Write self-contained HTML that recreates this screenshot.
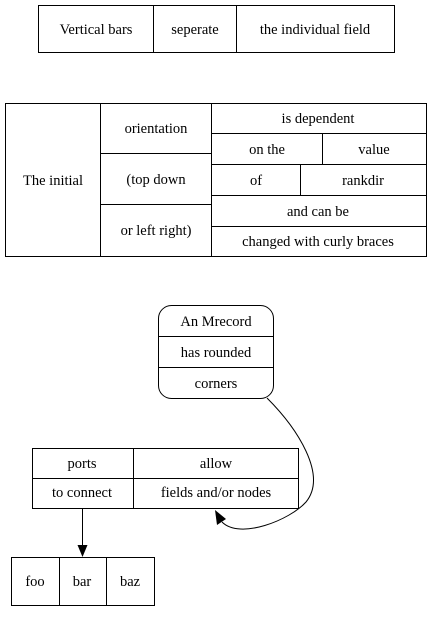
<!DOCTYPE html>
<html><head><style>body{margin:0;background:#fff} svg text{font-family:"Times New Roman","Liberation Serif",Times,serif;font-size:14.5px}</style></head><body>
<svg width="432" height="612" viewBox="0 0 432 612" xmlns="http://www.w3.org/2000/svg" text-anchor="middle">
<g fill="none" stroke="#000" stroke-width="1">
<rect x="38.5" y="5.5" width="356" height="47"/>
<path d="M153.5 5.5V52.5M236.5 5.5V52.5"/>
<rect x="5.5" y="103.5" width="421" height="153"/>
<path d="M100.5 103.5V256.5M211.5 103.5V256.5M100.5 153.5H211.5M100.5 204.5H211.5M211.5 133.5H426.5M211.5 164.5H426.5M211.5 195.5H426.5M211.5 226.5H426.5M322.5 133.5V164.5M300.5 164.5V195.5"/>
<rect x="158.5" y="305.5" width="115" height="93" rx="13"/>
<path d="M158.5 336.5H273.5M158.5 367.5H273.5"/>
<rect x="32.5" y="448.5" width="266" height="60"/>
<path d="M133.5 448.5V508.5M32.5 478.5H298.5"/>
<rect x="11.5" y="557.5" width="143" height="48"/>
<path d="M59.5 557.5V605.5M106.5 557.5V605.5"/>
<path d="M82.5 508.5V547"/>
<path d="M267 398C297 428 328 475 306 502C290 520 240 540 222 522"/>
</g>
<polygon points="77.5,545 87.5,545 82.5,557" fill="#000"/>
<polygon points="215,510 226,519 217,525" fill="#000"/>
<g fill="#000">
<text x="96" y="34">Vertical bars</text>
<text x="195" y="34">seperate</text>
<text x="315" y="34">the individual field</text>
<text x="53" y="185">The initial</text>
<text x="156" y="133">orientation</text>
<text x="156" y="184">(top down</text>
<text x="156" y="235">or left right)</text>
<text x="318" y="123">is dependent</text>
<text x="267" y="154">on the</text>
<text x="374" y="154">value</text>
<text x="256" y="185">of</text>
<text x="363" y="185">rankdir</text>
<text x="318" y="216">and can be</text>
<text x="318" y="246">changed with curly braces</text>
<text x="216" y="326">An Mrecord</text>
<text x="216" y="357">has rounded</text>
<text x="216" y="388">corners</text>
<text x="82" y="468">ports</text>
<text x="216" y="468">allow</text>
<text x="82" y="497">to connect</text>
<text x="216" y="497">fields and/or nodes</text>
<text x="35" y="586">foo</text>
<text x="82" y="586">bar</text>
<text x="130" y="586">baz</text>
</g>
</svg>
</body></html>
